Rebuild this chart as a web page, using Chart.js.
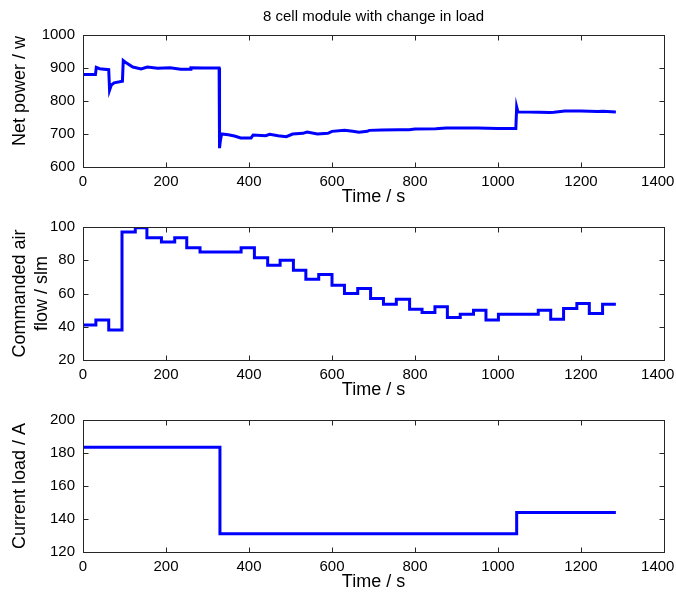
<!DOCTYPE html>
<html><head><meta charset="utf-8">
<script src="https://cdn.jsdelivr.net/npm/chart.js@4/dist/chart.umd.min.js"></script>
<style>
html,body{margin:0;padding:0;background:#fff;}
#wrap{position:relative;width:676px;height:594px;background:#fff;}
#wrap canvas{position:absolute;left:0;top:0;}
</style></head><body>
<div id="wrap">
<canvas id="c1" width="676" height="594"></canvas>
<canvas id="c2" width="676" height="594"></canvas>
<canvas id="c3" width="676" height="594"></canvas>
</div>
<script>
// ---- data ----
const chartTitle = '8 cell module with change in load';
const xTitle = 'Time / s';

const powerTime  = [0,30,32,40,62,64,68,75,95,97,105,120,140,155,180,210,235,258,260,290,328,329,331,334,350,365,380,405,410,440,450,470,490,505,530,540,565,590,600,630,650,665,685,690,720,760,786,800,850,875,950,1000,1043,1045,1048,1100,1125,1135,1161,1200,1240,1253,1284];
const powerWatts = [880,880,902,898,895,833,848,855,860,923,915,903,897,903,899,901,896,896,901,900,900,657,680,700,698,694,688,688,697,695,699,695,692,700,702,706,700,702,708,711,708,705,708,711,712,713,713,715,716,718,718,717,717,782,767,766,765,766,770,770,768,769,767];

const airTime = [0,31,62,94,126,154,189,221,250,282,381,413,445,475,507,537,568,600,630,662,693,724,755,787,817,848,878,909,941,971,1001,1097,1127,1158,1190,1220,1252,1284];
const airFlow = [41,44,38,97,99.5,93.5,91,93.5,87.5,85,87.5,81.5,77,80,74,68.5,71.5,65,60,63,57,53.5,56.5,50.5,48.5,52,45.5,47.5,50,44,47.5,50,44.5,51,54,48,53.5,53.5];

const loadTime = [0,330,1045,1284];
const loadAmps = [183.5,131,144,144];

const xTickMin = 0, xTickMax = 1400, xTickStep = 200;

// ---- helpers ----
const FONT = '"Liberation Sans", Arial, Helvetica, sans-serif';
Chart.defaults.font.family = FONT;
Chart.defaults.color = '#000';

const pts = (xs, ys) => xs.map((x, i) => ({x, y: ys[i]}));

const framePlugin = {
  id: 'frame',
  afterDraw(chart) {
    const {ctx, chartArea: a, scales: {x, y}} = chart;
    const L = Math.round(a.left) + 0.5, R = Math.round(a.right) + 0.5;
    const T = Math.round(a.top) + 0.5, B = Math.round(a.bottom) + 0.5;
    ctx.save();
    ctx.strokeStyle = '#262626';
    ctx.lineWidth = 1;
    ctx.strokeRect(L, T, R - L, B - T);
    const tl = 5;
    ctx.beginPath();
    x.ticks.forEach(t => {
      const px = Math.round(x.getPixelForValue(t.value)) + 0.5;
      ctx.moveTo(px, B); ctx.lineTo(px, B - tl);
      ctx.moveTo(px, T); ctx.lineTo(px, T + tl);
    });
    y.ticks.forEach(t => {
      const py = Math.round(y.getPixelForValue(t.value)) + 0.5;
      ctx.moveTo(L, py); ctx.lineTo(L + tl, py);
      ctx.moveTo(R, py); ctx.lineTo(R - tl, py);
    });
    ctx.stroke();
    ctx.restore();
  }
};

const XH = 42;         // height of x axis block (ticks + title)
const YW = 83;         // width of y axis block

function makeChart(id, data, stepped, yMin, yMax, yStep, yTitle, areaTop, areaBottom, withTitle) {
  return new Chart(document.getElementById(id), {
    type: 'line',
    data: {
      datasets: [{
        data,
        stepped,
        borderColor: '#0000ff',
        borderWidth: 3,
        pointRadius: 0,
        tension: 0,
        fill: false
      }]
    },
    options: {
      responsive: false,
      animation: false,
      layout: {
        padding: {
          left: 0,
          right: 12,
          top: withTitle ? 0 : areaTop,
          bottom: 594 - areaBottom - XH
        }
      },
      plugins: {
        legend: {display: false},
        tooltip: {enabled: false},
        title: withTitle ? {
          display: true,
          text: chartTitle,
          fullSize: false,
          color: '#000',
          font: {size: 15, weight: 'normal', family: FONT},
          padding: {top: 8, bottom: 9}
        } : {display: false}
      },
      scales: {
        x: {
          type: 'linear',
          min: xTickMin, max: xTickMax,
          grid: {display: false, drawTicks: false},
          border: {display: false},
          ticks: {
            stepSize: xTickStep,
            font: {size: 15, family: FONT},
            color: '#000',
            padding: 6,
            maxRotation: 0,
            callback: v => v === xTickMax ? v + '\u00a0\u00a0\u00a0' : String(v)
          },
          title: {
            display: true,
            text: xTitle,
            color: '#000',
            font: {size: 18, family: FONT},
            padding: {top: 0, bottom: 1.2}
          },
          afterFit: s => { s.height = XH; s.paddingLeft = 0; s.paddingRight = 0; }
        },
        y: {
          min: yMin, max: yMax,
          grid: {display: false, drawTicks: false},
          border: {display: false},
          ticks: {
            stepSize: yStep,
            font: {size: 15, family: FONT},
            color: '#000',
            padding: 8,
            callback: v => String(v)
          },
          title: {
            display: true,
            text: yTitle,
            color: '#000',
            font: {size: 18, family: FONT, lineHeight: 1.2},
            padding: {top: 9.2, bottom: 0}
          },
          afterFit: s => { s.width = YW; s.paddingTop = 0; s.paddingBottom = 0; }
        }
      }
    },
    plugins: [framePlugin]
  });
}

makeChart('c1', pts(powerTime, powerWatts), false, 600, 1000, 100, '\u00a0\u00a0\u00a0\u00a0Net power / w', 35, 167, true);
makeChart('c2', pts(airTime, airFlow), 'before', 20, 100, 20, ['Commanded air', 'flow / slm'], 227, 360, false);
makeChart('c3', pts(loadTime, loadAmps), 'before', 120, 200, 20, 'Current load / A', 420, 552, false);
</script>
</body></html>
